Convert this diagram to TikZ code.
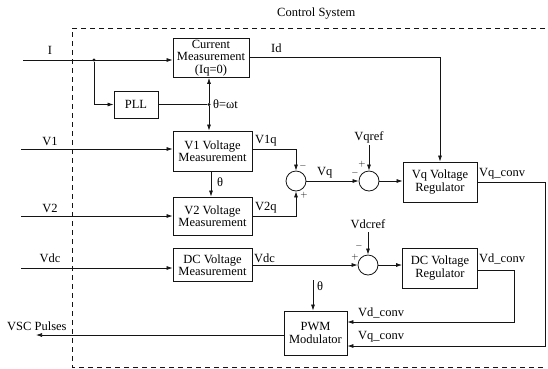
\documentclass[tikz,border=0pt]{standalone}
\usepackage{fontspec}
\setmainfont{Liberation Serif}
\usepackage{tikz}
\usetikzlibrary{arrows.meta,positioning,calc}
\definecolor{lineBlack}{RGB}{20, 20, 20}

\tikzset{
  blk/.style={draw=lineBlack, line width=0.8pt, align=center, inner sep=1pt,
    font=\fontsize{12.5}{12.5}\selectfont},
  sumj/.style={draw=lineBlack, circle, line width=0.8pt, minimum size=20pt, inner sep=0pt},
  sig/.style={draw=lineBlack, line width=0.7pt},
  arr/.style={sig, -{Latex[length=6pt,width=4pt]}},
  lbl/.style={font=\fontsize{12.5}{12.5}\selectfont, inner sep=1pt},
  sgn/.style={font=\fontsize{9}{9}\selectfont, inner sep=0pt},
  jdot/.style={circle, fill=lineBlack, inner sep=0pt, minimum size=3.2pt},
  frame/.style={draw=lineBlack, line width=0.8pt, dash pattern=on 5pt off 4pt}
}

\begin{document}
\begin{tikzpicture}[x=1pt, y=-1pt]
  \useasboundingbox (0,0) rectangle (548,368);

  % 1. Control System frame
  \draw[frame] (545,28) -- (72,28) -- (72,367) -- (545,367);
  \node[lbl, anchor=west] (title) at (276,14) {Control System};

  % 2. Blocks
  \node[blk, minimum width=76pt, minimum height=39pt] (curmeas) at (211,58)
    {Current\\Measurement\\(Iq=0)};
  \node[blk, minimum width=44pt, minimum height=27pt] (pll) at (136,104.5) {PLL};
  \node[blk, minimum width=79pt, minimum height=40pt] (v1meas) at (212.5,151)
    {V1 Voltage\\Measurement};
  \node[blk, minimum width=79pt, minimum height=38pt] (v2meas) at (212.5,216)
    {V2 Voltage\\Measurement};
  \node[blk, minimum width=79pt, minimum height=33pt] (dcmeas) at (212.5,265)
    {DC Voltage\\Measurement};
  \node[blk, minimum width=74pt, minimum height=40pt] (vqreg) at (440,182)
    {Vq Voltage\\Regulator};
  \node[blk, minimum width=75pt, minimum height=40pt] (dcreg) at (440,268)
    {DC Voltage\\Regulator};
  \node[blk, minimum width=63pt, minimum height=44pt] (pwm) at (315.5,333)
    {PWM\\Modulator};

  % 3. Summing junctions
  \node[sumj] (sum1) at (296,181) {};
  \node[sumj] (sum2) at (369,181) {};
  \node[sumj] (sum3) at (368,265) {};

  % 4. Free ends
  \coordinate (iIn) at (23,60);
  \coordinate (v1In) at (21,149);
  \coordinate (v2In) at (21,216);
  \coordinate (vdcIn) at (21,268);
  \coordinate (pulseOut) at (36,335);
  \coordinate (vqrefIn) at (369,145);
  \coordinate (vdcrefIn) at (368,232);
  \coordinate (thIn) at (313,280);
  \node[jdot] (jI) at (94,60) {};
  \node[jdot] (jTh) at (209,104.5) {};

  % 5. Current and PLL
  \draw[arr] (iIn) -- (iIn -| curmeas.west);
  \draw[arr] (jI) |- (pll.west);
  \draw[sig] (pll.east) -- (jTh);
  \draw[arr] (jTh) -- (jTh |- curmeas.south);
  \draw[arr] (jTh) -- (jTh |- v1meas.north);
  \draw[arr] (curmeas.east |- 0,57) -| (vqreg.north);

  % 6. Voltage measurements
  \draw[arr] (v1In) -- (v1In -| v1meas.west);
  \draw[arr] (v2In) -- (v2In -| v2meas.west);
  \draw[arr] (vdcIn) -- (vdcIn -| dcmeas.west);
  \draw[arr] (v1meas.south -| 211,0) -- (v2meas.north -| 211,0);
  \draw[arr] (v1meas.east |- v1In) -| (sum1.north);
  \draw[arr] (v2meas.east |- v2In) -| (sum1.south);

  % 7. q axis loop
  \draw[arr] (sum1.east) -- (sum2.west);
  \draw[arr] (vqrefIn) -- (sum2.north);
  \draw[arr] (sum2.east) -- (sum2.east -| vqreg.west);
  \draw[arr] (vqreg.east) -- (545,182) |- (pwm.east |- 0,346);

  % 8. DC loop
  \draw[arr] (dcmeas.east |- sum3.west) -- (sum3.west);
  \draw[arr] (vdcrefIn) -- (sum3.north);
  \draw[arr] (sum3.east) -- (sum3.east -| dcreg.west);
  \draw[arr] (dcreg.east |- 0,270) -- (514,270) |- (pwm.east |- 0,322);

  % 9. PWM
  \draw[arr] (thIn) -- (thIn |- pwm.north);
  \draw[arr] (pwm.west |- pulseOut) -- (pulseOut);

  % 10. Labels
  \node[lbl] (lI) at (50,50) {I};
  \node[lbl] (lV1) at (50,141) {V1};
  \node[lbl] (lV2) at (50,208) {V2};
  \node[lbl] (lVdc) at (50,258) {Vdc};
  \node[lbl, anchor=west] (lPulse) at (6,326) {VSC Pulses};
  \node[lbl, anchor=west] (lTh1) at (212,104.5) {θ=ωt};
  \node[lbl, anchor=west] (lTh2) at (216,182) {θ};
  \node[lbl, anchor=west] (lTh3) at (316,286) {θ};
  \node[lbl, anchor=west] (lId) at (270,48) {Id};
  \node[lbl, anchor=west] (lV1q) at (254,141) {V1q};
  \node[lbl, anchor=west] (lV2q) at (254,208) {V2q};
  \node[lbl, anchor=west] (lVq) at (316,173) {Vq};
  \node[lbl] (lVqref) at (369,137) {Vqref};
  \node[lbl] (lVdcref) at (368,224) {Vdcref};
  \node[lbl, anchor=west] (lVdc2) at (253,258) {Vdc};
  \node[lbl, anchor=west] (lVqc1) at (478,174) {Vq\_conv};
  \node[lbl, anchor=west] (lVdc1) at (478,259) {Vd\_conv};
  \node[lbl, anchor=west] (lVdc3) at (357,313) {Vd\_conv};
  \node[lbl, anchor=west] (lVqc2) at (357,337) {Vq\_conv};

  % 11. Signs
  \node[sgn] (s1a) at (303,166) {$-$};
  \node[sgn] (s1b) at (304,195) {$+$};
  \node[sgn] (s2a) at (362,164) {$+$};
  \node[sgn] (s2b) at (355,173) {$-$};
  \node[sgn] (s3a) at (359,246) {$-$};
  \node[sgn] (s3b) at (355,257) {$+$};
\end{tikzpicture}
\end{document}
